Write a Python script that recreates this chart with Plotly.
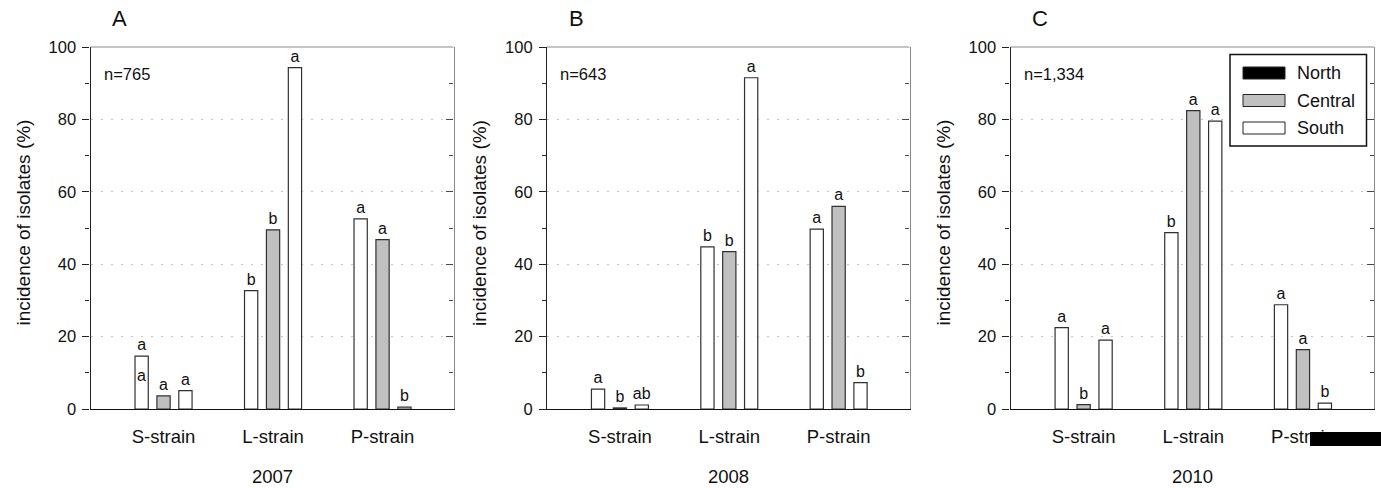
import plotly.graph_objects as go

# ---------------- data ----------------
categories = ["S-strain", "L-strain", "P-strain"]
regions = ["North", "Central", "South"]
years = ["2007", "2008", "2010"]
panel_letters = ["A", "B", "C"]
sample_sizes = ["n=765", "n=643", "n=1,334"]

north_2007 = [14.6, 32.7, 52.5]
central_2007 = [3.6, 49.5, 46.8]
south_2007 = [5.1, 94.3, 0.5]

north_2008 = [5.5, 44.8, 49.7]
central_2008 = [0.3, 43.5, 56.0]
south_2008 = [1.1, 91.5, 7.3]

north_2010 = [22.5, 48.7, 28.8]
central_2010 = [1.2, 82.4, 16.4]
south_2010 = [19.0, 79.5, 1.6]

letters_north_2007 = ["a", "b", "a"]
letters_central_2007 = ["a", "b", "a"]
letters_south_2007 = ["a", "a", "b"]

letters_north_2008 = ["a", "b", "a"]
letters_central_2008 = ["b", "b", "a"]
letters_south_2008 = ["ab", "a", "b"]

letters_north_2010 = ["a", "b", "a"]
letters_central_2010 = ["b", "a", "a"]
letters_south_2010 = ["a", "a", "b"]

# extra letter printed inside the 2007 S-strain North bar
inner_letter_2007 = "a"

panels = [
    (north_2007, central_2007, south_2007, letters_north_2007, letters_central_2007, letters_south_2007),
    (north_2008, central_2008, south_2008, letters_north_2008, letters_central_2008, letters_south_2008),
    (north_2010, central_2010, south_2010, letters_north_2010, letters_central_2010, letters_south_2010),
]

# ---------------- style ----------------
PAGE_W, PAGE_H = 1381, 488
OFF = 0                      # body margin removed by post_script below
W, H = PAGE_W - OFF, PAGE_H - OFF
MT, MB = 47 - OFF, PAGE_H - 409
FONT = "Liberation Sans, Arial, sans-serif"
fills = ["#ffffff", "#c0c0c0", "#ffffff"]
legend_fills = ["#000000", "#c0c0c0", "#ffffff"]
edge = "#303030"


def px(xpix):
    # page pixel -> paper x
    return (xpix - OFF) / W


def py(ypix):
    # page pixel -> paper y (paper y is measured inside the margins)
    return (H - MB - (ypix - OFF)) / (H - MT - MB)


x_domains = [(px(90.5), px(453.5)), (px(547.0), px(909.5)), (px(1010.5), px(1374.0))]

fig = go.Figure()
xpos = list(range(len(categories)))

for p, (vals_n, vals_c, vals_s, let_n, let_c, let_s) in enumerate(panels):
    xa = "x" if p == 0 else f"x{p + 1}"
    ya = "y" if p == 0 else f"y{p + 1}"
    for r, (vals, lets) in enumerate([(vals_n, let_n), (vals_c, let_c), (vals_s, let_s)]):
        fig.add_trace(go.Bar(
            x=xpos, y=vals, name=regions[r], xaxis=xa, yaxis=ya,
            offsetgroup=str(r),
            marker=dict(color=fills[r], line=dict(color=edge, width=1.2)),
            text=lets, textposition="outside", cliponaxis=False,
            constraintext="none",
            textfont=dict(family=FONT, size=16, color="#111"),
            showlegend=False, hoverinfo="skip",
        ))
    # right-side overlay axis for inner ticks
    fig.add_trace(go.Scatter(x=[None], y=[None], xaxis=xa, yaxis=f"y{p + 4}",
                             showlegend=False, hoverinfo="skip"))

for p in range(3):
    xk = "xaxis" if p == 0 else f"xaxis{p + 1}"
    yk = "yaxis" if p == 0 else f"yaxis{p + 1}"
    ya = "y" if p == 0 else f"y{p + 1}"
    xa = "x" if p == 0 else f"x{p + 1}"
    fig.update_layout(**{
        xk: dict(domain=list(x_domains[p]), anchor=ya, range=[-0.667, 2.648],
                 tickvals=xpos, ticktext=categories, ticks="",
                 ticklabelstandoff=11,
                 tickfont=dict(family=FONT, size=18.5, color="#111"),
                 showline=True, linecolor="#111", linewidth=1.2,
                 showgrid=False, zeroline=False, fixedrange=True),
        yk: dict(domain=[0, 1], anchor=xa, range=[0, 100], dtick=20,
                 ticks="outside", ticklen=7, tickcolor="#222",
                 minor=dict(dtick=10, ticks="outside", ticklen=4, tickcolor="#222"),
                 tickfont=dict(family=FONT, size=16.5, color="#111"),
                 ticklabelstandoff=3,
                 showline=True, linecolor="#222", linewidth=1.2,
                 showgrid=True, gridcolor="#c4c4c4", griddash="2px,8px", gridwidth=1,
                 zeroline=False, fixedrange=True),
        f"yaxis{p + 4}": dict(overlaying=ya, anchor=xa, side="right", range=[0, 100],
                              dtick=20, ticks="inside", ticklen=7, tickcolor="#444",
                              minor=dict(dtick=10, ticks="inside", ticklen=4, tickcolor="#444"),
                              showticklabels=False, showgrid=False, zeroline=False,
                              showline=True, linecolor="#8a8a8a", linewidth=1.2,
                              fixedrange=True),
    })

annotations = []
shapes = []
for p in range(3):
    x0, x1 = x_domains[p]
    xa = "x" if p == 0 else f"x{p + 1}"
    ya = "y" if p == 0 else f"y{p + 1}"
    # top frame line
    shapes.append(dict(type="line", xref=f"{xa} domain", yref=f"{ya} domain",
                       x0=0, x1=1, y0=1, y1=1, line=dict(color="#8a8a8a", width=1.2)))
    # panel letter
    annotations.append(dict(text=panel_letters[p], xref="paper", yref="paper",
                            x=x0 + 29 / W, y=py(19), showarrow=False,
                            xanchor="center", yanchor="middle",
                            font=dict(family=FONT, size=22, color="#111")))
    # sample size
    annotations.append(dict(text=sample_sizes[p], xref="paper", yref="paper",
                            x=x0 + 11 / W, y=py(74), showarrow=False,
                            xanchor="left", yanchor="middle",
                            font=dict(family=FONT, size=16.5, color="#111")))
    # y title
    annotations.append(dict(text="incidence of isolates (%)", xref="paper", yref="paper",
                            x=x0 - 68 / W, y=py(223), showarrow=False, textangle=-90,
                            xanchor="center", yanchor="middle",
                            font=dict(family=FONT, size=19, color="#111")))
    # year label
    annotations.append(dict(text=years[p], xref="paper", yref="paper",
                            x=(x0 + x1) / 2, y=py(476), showarrow=False,
                            xanchor="center", yanchor="middle",
                            font=dict(family=FONT, size=18.5, color="#111")))

# inner letter in the 2007 S-strain North bar
annotations.append(dict(text=inner_letter_2007, xref="x", yref="y",
                        x=xpos[0] - 0.2, y=north_2007[0], yshift=-19, showarrow=False,
                        font=dict(family=FONT, size=16, color="#111")))

# legend (drawn manually, wide swatches)
lx0, lx1, ly0, ly1 = 1230, 1366.5, 54.5, 146
shapes.append(dict(type="rect", xref="paper", yref="paper",
                   x0=px(lx0), x1=px(lx1), y0=py(ly1), y1=py(ly0),
                   fillcolor="#ffffff", line=dict(color="#111", width=1.5), layer="above"))
for i, (nm, fc) in enumerate(zip(regions, legend_fills)):
    cy = 73 + i * 27.5
    shapes.append(dict(type="rect", xref="paper", yref="paper",
                       x0=px(1243), x1=px(1285), y0=py(cy + 6), y1=py(cy - 6),
                       fillcolor=fc, line=dict(color="#222", width=1), layer="above"))
    annotations.append(dict(text=nm, xref="paper", yref="paper",
                            x=px(1295), y=py(cy), showarrow=False,
                            xanchor="left", yanchor="middle",
                            font=dict(family=FONT, size=18, color="#111")))

# black redaction box at bottom-right
shapes.append(dict(type="rect", xref="paper", yref="paper",
                   x0=px(1310), x1=1.0, y0=py(446), y1=py(432),
                   fillcolor="#000000", line=dict(width=0), layer="above"))

fig.update_layout(
    width=W, height=H,
    margin=dict(l=0, r=0, t=MT, b=MB, pad=0),
    barmode="group", bargap=0.4, bargroupgap=0.395,
    plot_bgcolor="#ffffff", paper_bgcolor="#ffffff",
    showlegend=False,
    annotations=annotations, shapes=shapes,
    font=dict(family=FONT, color="#111"),
)

fig.write_html(
    "out.html",
    config={"displayModeBar": False},
    post_script="document.body.style.margin='0px';document.body.style.overflow='hidden';",
)
